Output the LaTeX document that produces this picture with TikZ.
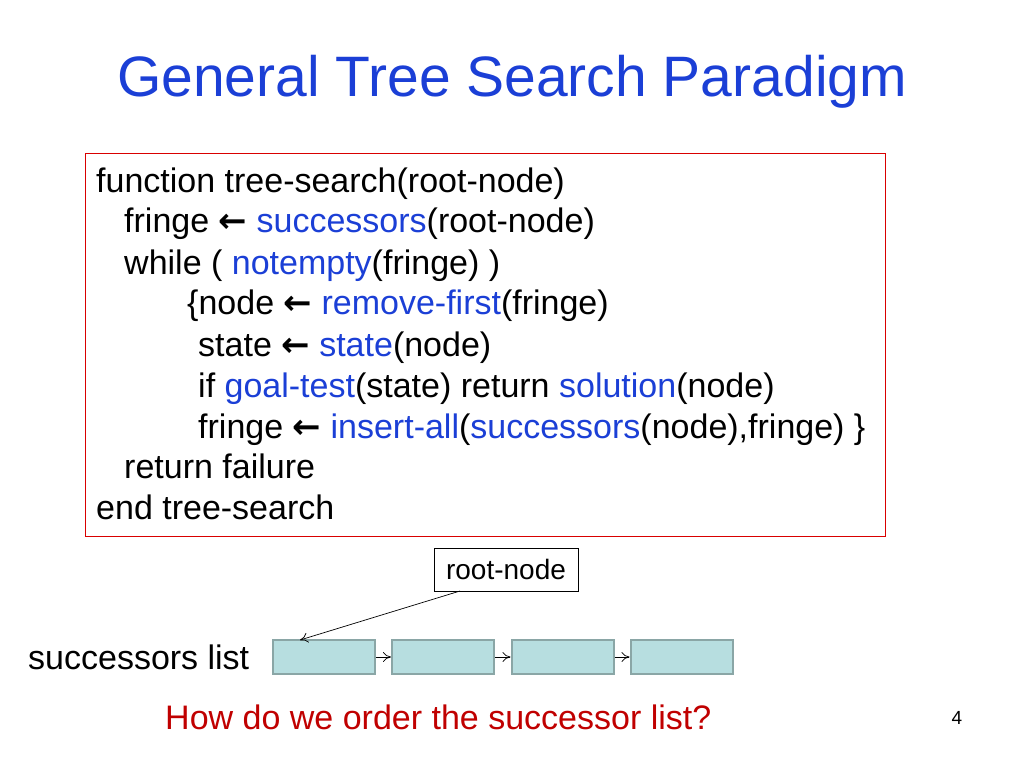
\documentclass[tikz,border=0pt]{standalone}
\usepackage{fontspec}
\setmainfont{Liberation Sans}
\newfontfamily\arr{DejaVu Sans}
\usetikzlibrary{arrows.meta}
\definecolor{kw}{HTML}{1B3FD6}
\definecolor{rd}{HTML}{C00000}
\definecolor{boxf}{HTML}{B7DEE0}
\definecolor{boxd}{HTML}{8AA6A6}
\begin{document}
\begin{tikzpicture}[x=1pt,y=-1pt,
 code/.style={anchor=base west,inner sep=0,font=\fontsize{34}{40}\selectfont},
 cell/.style={draw=boxd,line width=2pt,fill=boxf,minimum width=102pt,minimum height=34pt,inner sep=0},
 link/.style={-{To[length=8pt,width=10pt]},line width=0.7pt}]
\useasboundingbox (0,0) rectangle (1024,768);
\newcommand{\K}[1]{\textcolor{kw}{#1}}
\newcommand{\La}{{\arr\bfseries ←}}
\node[anchor=center,text=kw,font=\fontsize{57}{66}\selectfont] (title) at (512,82) {General Tree Search Paradigm};
\draw[draw=red!85!black,line width=0.8pt] (85,153) rectangle (885,536);
\node[code] (l1) at (96,192) {function tree-search(root-node)};
\node[code] (l2) at (124,232) {fringe \La\ \K{successors}(root-node)};
\node[code] (l3) at (124,274) {while ( \K{notempty}(fringe) )};
\node[code] (l4) at (187,314) {\{node \La\ \K{remove-first}(fringe)};
\node[code] (l5) at (198,356) {state \La\ \K{state}(node)};
\node[code] (l6) at (198,397) {if \K{goal-test}(state) return \K{solution}(node)};
\node[code] (l7) at (198,438) {fringe \La\ \K{insert-all}(\K{successors}(node),fringe) \}};
\node[code] (l8) at (124,478) {return failure};
\node[code] (l9) at (96,519) {end tree-search};
\node[draw,line width=0.6pt,minimum width=144pt,minimum height=43pt,inner sep=0,font=\fontsize{28}{32}\selectfont] (root) at (506,569.5) {root-node};
\node[cell] (c1) at (324,657) {};
\node[cell] (c2) at (443,657) {};
\node[cell] (c3) at (562.5,657) {};
\node[cell] (c4) at (681.5,657) {};
\coordinate (rs) at (460,591);
\coordinate (ct) at (300,640);
\draw[link] (rs) -- (ct);
\draw[link] (c1.east) -- (c2.west);
\draw[link] (c2.east) -- (c3.west);
\draw[link] (c3.east) -- (c4.west);
\node[code] (sl) at (28,669) {successors list};
\node[code,text=rd] (q) at (165,729) {How do we order the successor list?};
\node[anchor=center,font=\fontsize{19}{22}\selectfont] (pg) at (957,718) {4};
\end{tikzpicture}
\end{document}
